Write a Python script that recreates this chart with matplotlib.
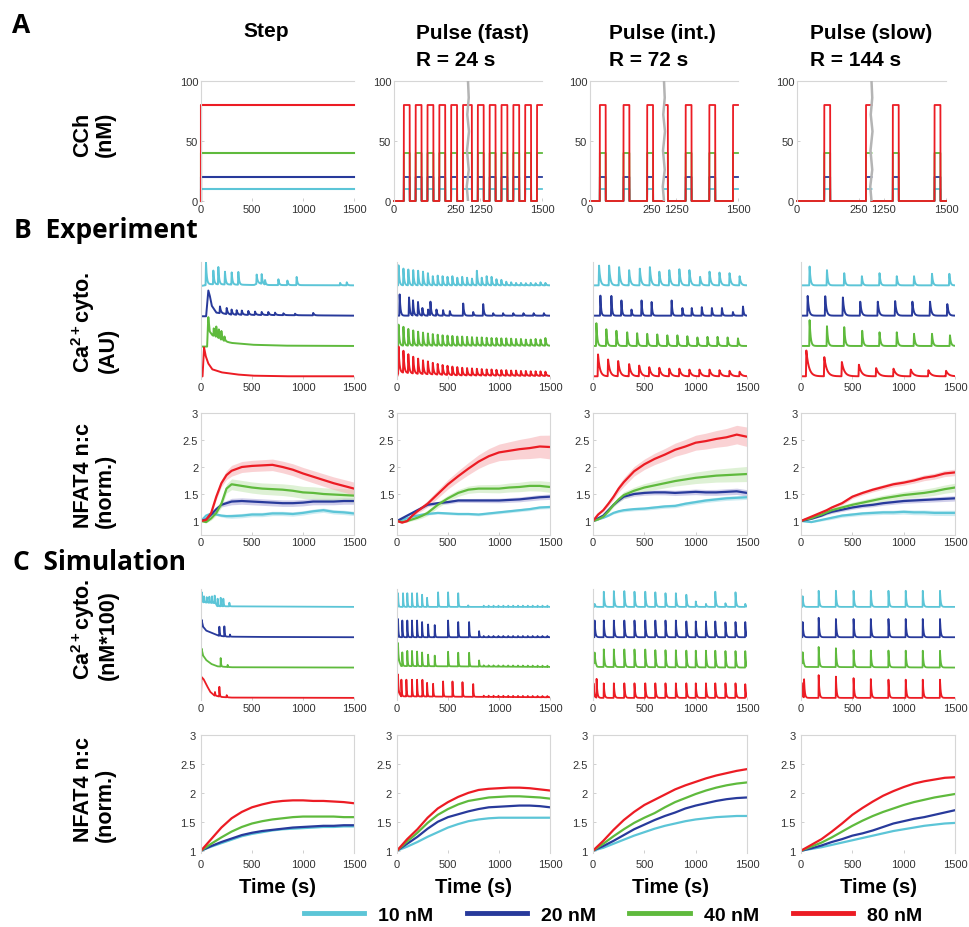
import numpy as np
import matplotlib
matplotlib.use("Agg")
import matplotlib.pyplot as plt
from matplotlib.lines import Line2D

plt.rcParams['font.family'] = ['Liberation Sans', 'DejaVu Sans']
plt.rcParams['mathtext.fontset'] = 'custom'
plt.rcParams['mathtext.rm'] = 'Liberation Sans'
plt.rcParams['mathtext.bf'] = 'Liberation Sans:bold'
plt.rcParams['mathtext.it'] = 'Liberation Sans:italic'

W, H = 969, 928

# ---------------- data ----------------
conc_labels = ['10 nM', '20 nM', '40 nM', '80 nM']
cch_levels = [10, 20, 40, 80]
line_colors = ['#5cc5d7', '#283a9b', '#5fba3d', '#ec1c24']
band_colors = ['#a5dde8', '#aaa7da', '#c4e6b3', '#f6aeb2']
col_titles = ['Step', 'Pulse (fast)', 'Pulse (int.)', 'Pulse (slow)']
col_subtitles = ['', 'R = 24 s', 'R = 72 s', 'R = 144 s']

# CCh pulse onsets (s), pulse length 24 s
pulse_width = 24
pulse_fast = [40, 88, 136, 184, 232, 280, 328, 376, 424, 472, 520, 568, 616, 664, 712, 760,
              808, 856, 904, 952, 1000, 1048, 1096, 1144, 1192, 1240, 1288, 1336, 1384, 1432, 1480]
pulse_int = [40, 136, 232, 328, 424, 520, 616, 712, 808, 904, 1000, 1096, 1192, 1288, 1384, 1480]
pulse_slow = [110, 278, 446, 614, 782, 950, 1118, 1286, 1454]

# Ca2+ traces: envelope (t, y) + spikes (t, height); order cyan, blue, green, red
ca_exp_step_env_t = [[0, 40, 60, 400, 520, 560, 640, 1500],
                     [0, 50, 60, 72, 85, 105, 150, 300, 1500],
                     [0, 60, 65, 72, 85, 110, 150, 200, 300, 500, 800, 1500],
                     [0, 15, 30, 45, 70, 110, 200, 350, 500, 800, 1500]]
ca_exp_step_env_y = [[0.0, 0.02, 0.06, 0.04, 0.03, 0.1, 0.03, 0.02],
                     [0.0, 0.0, 0.4, 0.85, 0.7, 0.35, 0.12, 0.05, 0.02],
                     [0.0, 0.0, 0.5, 0.97, 0.5, 0.38, 0.3, 0.2, 0.12, 0.06, 0.03, 0.02],
                     [0.0, 0.02, 0.97, 0.7, 0.45, 0.25, 0.15, 0.08, 0.04, 0.02, 0.02]]
ca_exp_step_spk_t = [[49, 121, 170, 235, 301, 366, 546, 595, 628, 759, 847, 938, 1364, 1429],
                     [186, 252, 300, 350, 400, 464, 530, 595, 660, 726, 808, 922, 1100],
                     [125, 150, 175, 200, 230],
                     []]
ca_exp_step_spk_h = [[0.74, 0.45, 0.57, 0.42, 0.4, 0.42, 0.3, 0.32, 0.15, 0.19, 0.15, 0.27, 0.08, 0.1],
                     [0.22, 0.2, 0.17, 0.15, 0.14, 0.13, 0.11, 0.1, 0.1, 0.08, 0.06, 0.05, 0.08],
                     [0.25, 0.35, 0.3, 0.3, 0.15],
                     []]

exp_fast_t = [15, 63, 111, 159, 207, 255, 303, 351, 399, 447, 495, 543, 591, 639, 687, 735,
              783, 831, 879, 927, 975, 1023, 1071, 1119, 1167, 1215, 1263, 1311, 1359, 1407, 1455]
ca_exp_fast_env_t = [[0, 1500], [0, 1500], [0, 20, 1500], [0, 15, 200, 600, 1500]]
ca_exp_fast_env_y = [[0.02, 0.02], [0.02, 0.02], [0.0, 0.03, 0.03], [0.0, 0.15, 0.1, 0.05, 0.03]]
ca_exp_fast_spk_t = [exp_fast_t,
                     [26, 118, 157, 206, 249, 305, 328, 387, 452, 518, 649, 747, 845, 943, 1040,
                      1140, 1240, 1340, 1440],
                     exp_fast_t, exp_fast_t]
ca_exp_fast_spk_h = [[0.66, 0.55, 0.52, 0.5, 0.48, 0.45, 0.4, 0.3, 0.32, 0.3, 0.28, 0.3, 0.25, 0.28, 0.25,
                      0.22, 0.48, 0.25, 0.3, 0.28, 0.2, 0.18, 0.12, 0.1, 0.08, 0.08, 0.07, 0.08, 0.07, 0.1, 0.08],
                     [0.7, 0.6, 0.5, 0.45, 0.25, 0.2, 0.45, 0.2, 0.18, 0.15, 0.4, 0.12, 0.38, 0.08, 0.08,
                      0.08, 0.08, 0.08, 0.08],
                     [0.7, 0.62, 0.55, 0.5, 0.46, 0.43, 0.4, 0.38, 0.36, 0.34, 0.33, 0.32, 0.3, 0.3, 0.29,
                      0.28, 0.27, 0.27, 0.26, 0.25, 0.25, 0.24, 0.24, 0.23, 0.22, 0.22, 0.2, 0.2, 0.22, 0.2, 0.25],
                     [0.85, 0.72, 0.62, 0.55, 0.5, 0.45, 0.42, 0.38, 0.35, 0.32, 0.3, 0.28, 0.27, 0.25, 0.24,
                      0.23, 0.22, 0.21, 0.2, 0.2, 0.19, 0.18, 0.18, 0.17, 0.17, 0.16, 0.16, 0.15, 0.15, 0.15, 0.14]]

ca_exp_int_env_t = [[0, 1500], [0, 1500], [0, 1500], [0, 1500]]
ca_exp_int_env_y = [[0.02, 0.02], [0.02, 0.02], [0.02, 0.02], [0.02, 0.02]]
ca_exp_int_spk_t = [[59, 157, 254, 352, 456, 554, 646, 743, 841, 939, 1043, 1135, 1232, 1330, 1428],
                    [72, 179, 277, 375, 473, 571, 766, 871, 962, 1060, 1158, 1256, 1363, 1461],
                    [33, 130, 228, 333, 430, 528, 626, 724, 822, 919, 1017, 1115, 1213, 1311, 1412],
                    [49, 147, 245, 352, 450, 548, 646, 743, 841, 939, 1037, 1135, 1232, 1330, 1428]]
ca_exp_int_spk_h = [[0.65, 0.65, 0.6, 0.5, 0.55, 0.6, 0.45, 0.5, 0.53, 0.5, 0.28, 0.45, 0.42, 0.4, 0.3],
                    [0.66, 0.65, 0.5, 0.2, 0.5, 0.45, 0.5, 0.25, 0.25, 0.28, 0.25, 0.25, 0.12, 0.3],
                    [0.75, 0.55, 0.5, 0.45, 0.42, 0.4, 0.38, 0.35, 0.35, 0.32, 0.28, 0.3, 0.3, 0.28, 0.25],
                    [0.72, 0.55, 0.5, 0.4, 0.35, 0.3, 0.28, 0.25, 0.25, 0.22, 0.22, 0.22, 0.2, 0.18, 0.15]]

ca_exp_slow_env_t = [[0, 1500], [0, 1500], [0, 1500], [0, 1500]]
ca_exp_slow_env_y = [[0.02, 0.02], [0.02, 0.02], [0.02, 0.02], [0.02, 0.02]]
ca_exp_slow_spk_t = [[84, 253, 421, 593, 765, 933, 1101, 1276, 1445],
                     [65, 236, 408, 577, 748, 917, 1085, 1257, 1425],
                     [84, 253, 421, 596, 765, 933, 1101, 1276, 1451],
                     [52, 227, 398, 564, 732, 901, 1069, 1241, 1413]]
ca_exp_slow_spk_h = [[0.62, 0.5, 0.4, 0.3, 0.4, 0.3, 0.3, 0.38, 0.38],
                     [0.65, 0.64, 0.6, 0.46, 0.46, 0.48, 0.46, 0.46, 0.38],
                     [0.85, 0.65, 0.62, 0.5, 0.45, 0.45, 0.4, 0.4, 0.35],
                     [0.85, 0.63, 0.47, 0.38, 0.27, 0.25, 0.22, 0.2, 0.18]]
ca_exp_tau = [[8, 10, 8, 8], [8, 8, 8, 9], [12, 7, 9, 18], [9, 12, 10, 25]]

ca_sim_step_env_t = [[0, 3, 20, 140, 160, 1500],
                     [0, 5, 20, 50, 100, 170, 250, 500, 1500],
                     [0, 5, 20, 50, 100, 160, 300, 1500],
                     [0, 5, 25, 50, 90, 130, 200, 300, 1500]]
ca_sim_step_env_y = [[0.0, 0.3, 0.15, 0.12, 0.02, 0.0],
                     [0.0, 0.58, 0.35, 0.22, 0.15, 0.05, 0.02, 0.01, 0.0],
                     [0.0, 0.63, 0.4, 0.25, 0.12, 0.04, 0.01, 0.0],
                     [0.0, 0.69, 0.62, 0.45, 0.2, 0.08, 0.03, 0.01, 0.0]]
ca_sim_step_spk_t = [[7, 29, 56, 82, 108, 134, 163, 193, 219, 278],
                     [180, 229, 284],
                     [193, 261],
                     [137, 180, 252]]
ca_sim_step_spk_h = [[0.22, 0.2, 0.18, 0.2, 0.22, 0.25, 0.25, 0.28, 0.25, 0.12],
                     [0.3, 0.33, 0.07],
                     [0.28, 0.07],
                     [0.12, 0.32, 0.07]]

sim_fast_ripple_t = [850, 898, 946, 994, 1042, 1090, 1138, 1186, 1234, 1282, 1330, 1378, 1426, 1474]
ca_sim_fast_env_t = [[0, 1500], [0, 1500], [0, 5, 40, 1500], [0, 5, 40, 1500]]
ca_sim_fast_env_y = [[0.0, 0.0], [0.0, 0.0], [0.0, 0.35, 0.05, 0.02], [0.0, 0.25, 0.05, 0.02]]
ca_sim_fast_spk_t = [[10, 59, 101, 147, 197, 246, 295, 403, 501, 600, 698],
                     [10, 52, 101, 147, 197, 246, 305, 370, 501, 600, 707, 805],
                     [10, 52, 101, 147, 197, 246, 305, 370, 501, 600, 707, 805],
                     [10, 43, 92, 147, 197, 249, 295, 354, 452, 544, 642, 747]]
ca_sim_fast_spk_h = [[0.45, 0.45, 0.45, 0.45, 0.45, 0.4, 0.3, 0.48, 0.48, 0.45, 0.05],
                     [0.6, 0.55, 0.55, 0.55, 0.55, 0.5, 0.42, 0.4, 0.55, 0.5, 0.5, 0.2],
                     [0.5, 0.45, 0.5, 0.5, 0.48, 0.45, 0.38, 0.35, 0.48, 0.45, 0.45, 0.2],
                     [0.55, 0.55, 0.55, 0.55, 0.55, 0.55, 0.45, 0.42, 0.5, 0.5, 0.48, 0.42]]

sim_int_t = [16, 105, 203, 305, 404, 509, 607, 706, 807, 909, 1001, 1100, 1191, 1290, 1388, 1483]
ca_sim_int_env_t = [[0, 1500], [0, 1500], [0, 5, 40, 1500], [0, 1500]]
ca_sim_int_env_y = [[0.0, 0.0], [0.0, 0.0], [0.0, 0.2, 0.02, 0.0], [0.0, 0.0]]
ca_sim_int_spk_t = [sim_int_t, sim_int_t, sim_int_t,
                    [5, 35, 105, 203, 305, 404, 509, 607, 706, 807, 909, 1001, 1100, 1191, 1290, 1388, 1483]]
ca_sim_int_spk_h = [[0.1, 0.5, 0.52, 0.52, 0.5, 0.5, 0.48, 0.45, 0.45, 0.4, 0.18, 0.1, 0.5, 0.12, 0.48, 0.1],
                    [0.55, 0.55, 0.55, 0.55, 0.55, 0.55, 0.55, 0.55, 0.55, 0.52, 0.52, 0.52, 0.52, 0.5, 0.5, 0.5],
                    [0.35, 0.58, 0.58, 0.58, 0.58, 0.58, 0.56, 0.56, 0.56, 0.55, 0.55, 0.55, 0.55, 0.54, 0.54, 0.54],
                    [0.48, 0.62, 0.48, 0.48, 0.48, 0.48, 0.48, 0.48, 0.48, 0.48, 0.48, 0.48, 0.48, 0.48, 0.48, 0.48, 0.45]]

sim_slow_t = [16, 172, 340, 512, 680, 852, 1020, 1186, 1354]
ca_sim_slow_env_t = [[0, 1500], [0, 1500], [0, 5, 40, 1500], [0, 1500]]
ca_sim_slow_env_y = [[0.0, 0.0], [0.0, 0.0], [0.0, 0.2, 0.02, 0.0], [0.0, 0.0]]
ca_sim_slow_spk_t = [sim_slow_t, sim_slow_t, sim_slow_t,
                     [5, 30, 172, 340, 512, 680, 852, 1020, 1186, 1354]]
ca_sim_slow_spk_h = [[0.35, 0.53, 0.53, 0.53, 0.53, 0.53, 0.53, 0.53, 0.53],
                     [0.5, 0.64, 0.6, 0.6, 0.6, 0.6, 0.6, 0.6, 0.6],
                     [0.36, 0.66, 0.62, 0.56, 0.55, 0.55, 0.55, 0.55, 0.55],
                     [0.5, 0.6, 0.75, 0.7, 0.65, 0.62, 0.6, 0.6, 0.6, 0.6]]
ca_sim_tau = [4, 4, 7, 7]

# NFAT4 nuclear:cytosolic ratio (normalised)
nfat_exp_t = [0, 50, 100, 150, 200, 250, 300, 400, 500, 600, 700, 800, 900, 1000, 1100, 1200, 1300, 1400, 1500]
nfat_exp_step = [[1.0, 1.1, 1.14, 1.12, 1.1, 1.09, 1.09, 1.1, 1.12, 1.12, 1.14, 1.14, 1.13, 1.15, 1.18, 1.2, 1.17, 1.16, 1.14],
                 [1.0, 1.03, 1.12, 1.22, 1.3, 1.33, 1.36, 1.37, 1.36, 1.35, 1.34, 1.33, 1.33, 1.34, 1.36, 1.36, 1.36, 1.37, 1.37],
                 [1.0, 0.98, 1.05, 1.15, 1.32, 1.6, 1.68, 1.65, 1.62, 1.6, 1.59, 1.58, 1.56, 1.53, 1.52, 1.5, 1.49, 1.48, 1.47],
                 [1.0, 1.02, 1.15, 1.45, 1.7, 1.85, 1.93, 2.0, 2.02, 2.03, 2.04, 2.0, 1.95, 1.88, 1.82, 1.76, 1.7, 1.65, 1.6]]
nfat_exp_fast = [[1.0, 1.02, 1.05, 1.08, 1.1, 1.12, 1.13, 1.15, 1.14, 1.13, 1.13, 1.12, 1.14, 1.16, 1.18, 1.2, 1.22, 1.25, 1.26],
                 [1.0, 1.05, 1.1, 1.15, 1.2, 1.25, 1.3, 1.33, 1.35, 1.38, 1.38, 1.38, 1.38, 1.38, 1.39, 1.4, 1.42, 1.44, 1.45],
                 [1.0, 0.98, 1.0, 1.03, 1.06, 1.1, 1.15, 1.3, 1.42, 1.52, 1.58, 1.6, 1.6, 1.6, 1.62, 1.63, 1.65, 1.65, 1.63],
                 [1.0, 0.97, 1.0, 1.1, 1.18, 1.25, 1.32, 1.5, 1.68, 1.83, 1.97, 2.1, 2.2, 2.27, 2.3, 2.33, 2.35, 2.38, 2.37]]
nfat_exp_int = [[1.0, 1.03, 1.06, 1.1, 1.15, 1.18, 1.2, 1.22, 1.23, 1.25, 1.27, 1.28, 1.32, 1.35, 1.38, 1.4, 1.42, 1.43, 1.44],
                [1.0, 1.05, 1.1, 1.2, 1.3, 1.38, 1.45, 1.5, 1.52, 1.53, 1.53, 1.52, 1.53, 1.54, 1.53, 1.53, 1.54, 1.55, 1.52],
                [1.0, 1.03, 1.08, 1.18, 1.3, 1.4, 1.48, 1.56, 1.62, 1.66, 1.7, 1.74, 1.77, 1.8, 1.82, 1.84, 1.85, 1.86, 1.87],
                [1.0, 1.12, 1.2, 1.32, 1.45, 1.6, 1.72, 1.92, 2.05, 2.15, 2.23, 2.32, 2.38, 2.45, 2.48, 2.52, 2.55, 2.6, 2.56]]
nfat_exp_slow = [[1.0, 0.99, 0.98, 1.0, 1.02, 1.04, 1.06, 1.1, 1.12, 1.14, 1.15, 1.16, 1.16, 1.17, 1.16, 1.16, 1.15, 1.15, 1.15],
                 [1.0, 1.02, 1.04, 1.07, 1.1, 1.14, 1.17, 1.21, 1.25, 1.28, 1.3, 1.33, 1.35, 1.37, 1.38, 1.39, 1.4, 1.41, 1.42],
                 [1.0, 1.03, 1.05, 1.09, 1.12, 1.16, 1.2, 1.25, 1.3, 1.34, 1.38, 1.42, 1.45, 1.48, 1.5, 1.52, 1.55, 1.59, 1.62],
                 [1.0, 1.04, 1.08, 1.12, 1.16, 1.2, 1.25, 1.33, 1.45, 1.52, 1.58, 1.63, 1.68, 1.71, 1.75, 1.8, 1.83, 1.88, 1.9]]
nfat_sem_t = [0, 300, 1500]
nfat_exp_sem = [[[0, 0.04, 0.04], [0, 0.06, 0.06], [0, 0.1, 0.12], [0, 0.1, 0.12]],
                [[0, 0.02, 0.03], [0, 0.03, 0.05], [0, 0.05, 0.1], [0, 0.06, 0.22]],
                [[0, 0.03, 0.04], [0, 0.04, 0.06], [0, 0.06, 0.14], [0, 0.08, 0.18]],
                [[0, 0.03, 0.05], [0, 0.03, 0.05], [0, 0.04, 0.08], [0, 0.03, 0.06]]]

nfat_sim_t = [0, 100, 200, 300, 400, 500, 600, 700, 800, 900, 1000, 1100, 1200, 1300, 1400, 1500]
nfat_sim_step = [[1.0, 1.07, 1.13, 1.19, 1.25, 1.29, 1.32, 1.35, 1.37, 1.38, 1.39, 1.4, 1.41, 1.41, 1.42, 1.42],
                 [1.0, 1.08, 1.15, 1.21, 1.27, 1.31, 1.34, 1.36, 1.38, 1.4, 1.41, 1.42, 1.43, 1.43, 1.44, 1.44],
                 [1.0, 1.12, 1.23, 1.33, 1.41, 1.47, 1.51, 1.54, 1.56, 1.58, 1.59, 1.59, 1.59, 1.59, 1.58, 1.58],
                 [1.0, 1.2, 1.4, 1.56, 1.67, 1.75, 1.8, 1.84, 1.86, 1.87, 1.87, 1.86, 1.86, 1.85, 1.84, 1.82]]
nfat_sim_fast = [[1.0, 1.07, 1.15, 1.24, 1.32, 1.4, 1.46, 1.51, 1.54, 1.56, 1.57, 1.57, 1.57, 1.57, 1.57, 1.57],
                 [1.0, 1.12, 1.24, 1.38, 1.5, 1.58, 1.63, 1.68, 1.72, 1.75, 1.76, 1.77, 1.78, 1.78, 1.77, 1.75],
                 [1.0, 1.16, 1.31, 1.48, 1.62, 1.72, 1.8, 1.86, 1.89, 1.92, 1.93, 1.94, 1.94, 1.93, 1.92, 1.9],
                 [1.0, 1.2, 1.37, 1.57, 1.73, 1.84, 1.93, 2.0, 2.05, 2.07, 2.08, 2.09, 2.09, 2.08, 2.06, 2.04]]
nfat_sim_int = [[1.0, 1.05, 1.12, 1.19, 1.26, 1.32, 1.38, 1.43, 1.47, 1.51, 1.54, 1.56, 1.58, 1.59, 1.6, 1.6],
                [1.0, 1.08, 1.17, 1.27, 1.37, 1.45, 1.53, 1.6, 1.66, 1.73, 1.78, 1.82, 1.86, 1.89, 1.91, 1.92],
                [1.0, 1.12, 1.25, 1.37, 1.48, 1.57, 1.65, 1.75, 1.84, 1.91, 1.98, 2.04, 2.09, 2.13, 2.16, 2.18],
                [1.0, 1.17, 1.36, 1.53, 1.67, 1.79, 1.88, 1.97, 2.06, 2.13, 2.19, 2.25, 2.3, 2.34, 2.38, 2.41]]
nfat_sim_slow = [[1.0, 1.03, 1.06, 1.1, 1.14, 1.18, 1.22, 1.26, 1.3, 1.34, 1.37, 1.4, 1.43, 1.45, 1.47, 1.48],
                 [1.0, 1.04, 1.09, 1.15, 1.2, 1.26, 1.3, 1.35, 1.41, 1.47, 1.51, 1.55, 1.58, 1.62, 1.66, 1.7],
                 [1.0, 1.07, 1.14, 1.23, 1.33, 1.43, 1.52, 1.6, 1.67, 1.73, 1.79, 1.84, 1.88, 1.92, 1.95, 1.98],
                 [1.0, 1.1, 1.2, 1.33, 1.47, 1.62, 1.74, 1.85, 1.95, 2.03, 2.1, 2.16, 2.2, 2.23, 2.26, 2.27]]

# ---------------- layout (pixels) ----------------
cols_A = [(201, 354), (394, 542), (590, 738), (797, 946)]
cols = [(201, 354), (397, 550), (593, 747), (801, 955)]
ca_offsets = [3.07, 2.07, 1.07, 0.07]

fig = plt.figure(figsize=(W / 100, H / 100), dpi=100)


def px_ax(x0, x1, y0, y1):
    return fig.add_axes([x0 / W, 1 - y1 / H, (x1 - x0) / W, (y1 - y0) / H])


def style(ax, spines, pad=2):
    for name, sp in ax.spines.items():
        sp.set_visible(name in spines)
        sp.set_color('#d6d6d6')
        sp.set_linewidth(0.8)
    ax.tick_params(length=2, width=0.6, color='#c8c8c8', labelsize=8,
                   labelcolor='#333333', pad=pad, direction='in')


T = np.linspace(0, 1500, 3001)


def ca_trace(env_t, env_y, sp_t, sp_h, tau, rise=4.0):
    y = np.interp(T, env_t, env_y)
    for ts, h in zip(sp_t, sp_h):
        d = T - ts
        y = y + h * np.where(d < 0, np.clip((d + rise) / rise, 0, 1), np.exp(-np.maximum(d, 0) / tau))
    return y


def cch_signal(t, onsets, level):
    on = np.zeros(t.shape, dtype=bool)
    for o in onsets:
        on |= (t >= o) & (t < o + pulse_width)
    return np.where(on, level, 0.0)


# ---------------- row A : CCh protocols ----------------
pulses = [None, pulse_fast, pulse_int, pulse_slow]
for j, (x0, x1) in enumerate(cols_A):
    ax = px_ax(x0, x1, 82, 202)
    style(ax, ('left', 'top'))
    if j == 0:
        for lvl, c in zip(cch_levels, line_colors):
            ax.plot([0, 0, 1500], [0, lvl, lvl], color=c, lw=1.5, clip_on=False)
        ax.set_xlim(0, 1500)
        ax.set_xticks([0, 500, 1000, 1500])
    else:
        tl = np.arange(0, 300.01, 0.5)
        tr = np.arange(1200, 1500.01, 0.5)
        for lvl, c in zip(cch_levels, line_colors):
            ax.plot(tl, cch_signal(tl, pulses[j], lvl), color=c, lw=1.3, clip_on=False)
            ax.plot(tr - 900, cch_signal(tr, pulses[j], lvl), color=c, lw=1.3, clip_on=False)
        # axis break
        ax.plot([300, 295, 303, 296, 304, 297, 303, 300],
                [0, 12, 26, 42, 58, 72, 86, 100], color='#b4b4b4', lw=1.8, zorder=5)
        ax.set_xlim(0, 600)
        ax.set_xticks([0, 250, 350, 600])
        ax.set_xticklabels(['0', '250', '1250', '1500'])
    ax.set_ylim(0, 100)
    ax.set_yticks([0, 50, 100])

# ---------------- Ca2+ rows ----------------
ca_exp = [(ca_exp_step_env_t, ca_exp_step_env_y, ca_exp_step_spk_t, ca_exp_step_spk_h),
          (ca_exp_fast_env_t, ca_exp_fast_env_y, ca_exp_fast_spk_t, ca_exp_fast_spk_h),
          (ca_exp_int_env_t, ca_exp_int_env_y, ca_exp_int_spk_t, ca_exp_int_spk_h),
          (ca_exp_slow_env_t, ca_exp_slow_env_y, ca_exp_slow_spk_t, ca_exp_slow_spk_h)]
ca_sim = [(ca_sim_step_env_t, ca_sim_step_env_y, ca_sim_step_spk_t, ca_sim_step_spk_h),
          (ca_sim_fast_env_t, ca_sim_fast_env_y, ca_sim_fast_spk_t, ca_sim_fast_spk_h),
          (ca_sim_int_env_t, ca_sim_int_env_y, ca_sim_int_spk_t, ca_sim_int_spk_h),
          (ca_sim_slow_env_t, ca_sim_slow_env_y, ca_sim_slow_spk_t, ca_sim_slow_spk_h)]

for j, (x0, x1) in enumerate(cols):
    # experiment
    ax = px_ax(x0, x1, 263, 380)
    style(ax, ('left',))
    et, ey, st, sh = ca_exp[j]
    for i in range(4):
        y = ca_trace(et[i], ey[i], st[i], sh[i], ca_exp_tau[j][i])
        ax.plot(T, ca_offsets[i] + y, color=line_colors[i], lw=1.4)
    ax.set_xlim(0, 1500)
    ax.set_ylim(0, 3.86)
    ax.set_yticks([])
    ax.set_xticks([0, 500, 1000, 1500])

    # simulation
    ax = px_ax(x0, x1, 590, 701)
    style(ax, ('left',))
    et, ey, st, sh = ca_sim[j]
    for i in range(4):
        sp_t = list(st[i])
        sp_h = list(sh[i])
        if j == 1:
            sp_t += sim_fast_ripple_t
            sp_h += [0.04] * len(sim_fast_ripple_t)
        y = ca_trace(et[i], ey[i], sp_t, sp_h, ca_sim_tau[j], rise=2.0)
        ax.plot(T, ca_offsets[i] + y, color=line_colors[i], lw=1.3)
    ax.set_xlim(0, 1500)
    ax.set_ylim(0, 3.66)
    ax.set_yticks([])
    ax.set_xticks([0, 500, 1000, 1500])

# ---------------- NFAT rows ----------------
nfat_exp = [nfat_exp_step, nfat_exp_fast, nfat_exp_int, nfat_exp_slow]
nfat_sim = [nfat_sim_step, nfat_sim_fast, nfat_sim_int, nfat_sim_slow]
te = np.array(nfat_exp_t, dtype=float)
yt = [1, 1.5, 2, 2.5, 3]
ytl = ['1', '1.5', '2', '2.5', '3']

for j, (x0, x1) in enumerate(cols):
    ax = px_ax(x0, x1, 414, 535.5)
    style(ax, ('left', 'top', 'right', 'bottom'))
    for i in range(4):
        v = np.array(nfat_exp[j][i])
        s = np.interp(te, nfat_sem_t, nfat_exp_sem[j][i])
        ax.fill_between(te, v - s, v + s, color=band_colors[i], alpha=0.55, lw=0)
    for i in range(4):
        ax.plot(te, nfat_exp[j][i], color=line_colors[i], lw=1.6)
    ax.set_xlim(0, 1500)
    ax.set_ylim(0.75, 3)
    ax.set_yticks(yt)
    ax.set_yticklabels(ytl)
    ax.set_xticks([0, 500, 1000, 1500])

    ax = px_ax(x0, x1, 736, 854)
    style(ax, ('left', 'top', 'right'), pad=4)
    for i in range(4):
        ax.plot(nfat_sim_t, nfat_sim[j][i], color=line_colors[i], lw=1.6)
    ax.set_xlim(0, 1500)
    ax.set_ylim(0.96, 3)
    ax.set_yticks(yt)
    ax.set_yticklabels(ytl)
    ax.set_xticks([0, 500, 1000, 1500])
    fig.text((x0 + x1) / 2 / W, 1 - 888 / H, 'Time (s)', ha='center', va='center',
             fontsize=14.5, fontweight='bold')

# ---------------- texts ----------------
def ftext(x, y, s, **kw):
    fig.text(x / W, 1 - y / H, s, **kw)


ftext(266, 37, col_titles[0], ha='center', va='baseline', fontsize=15, fontweight='bold')
for j, xl in zip([1, 2, 3], [416, 609, 810]):
    ftext(xl, 39, col_titles[j], ha='left', va='baseline', fontsize=15, fontweight='bold')
    ftext(xl, 66, col_subtitles[j], ha='left', va='baseline', fontsize=15, fontweight='bold')

row_labels = [('CCh\n(nM)', 157),
              (r'Ca$^{\mathbf{2+}}$cyto.' + '\n(AU)', 373),
              ('NFAT4 n:c\n(norm.)', 528),
              (r'Ca$^{\mathbf{2+}}$cyto.' + '\n(nM*100)', 680),
              ('NFAT4 n:c\n(norm.)', 842)]
for s, yb in row_labels:
    ftext(94, yb, s, rotation=90, ha='center', va='bottom', multialignment='left',
          fontsize=15.5, fontweight='bold', linespacing=1.05)

ftext(12, 33, 'A', fontsize=19, fontweight='bold', family='Open Sans', va='baseline')
ftext(14, 238, 'B  Experiment', fontsize=19, fontweight='bold', family='Open Sans', va='baseline')
ftext(13, 570, 'C  Simulation', fontsize=19, fontweight='bold', family='Open Sans', va='baseline')

handles = [Line2D([0], [0], color=c, lw=3.5) for c in line_colors]
fig.legend(handles, conc_labels, loc='center', bbox_to_anchor=(613 / W, 1 - 916 / H), ncol=4,
           frameon=False, handlelength=3.1, handletextpad=0.75, columnspacing=1.7,
           prop=dict(weight='bold', size=14))

fig.savefig('out.png', dpi=100)
